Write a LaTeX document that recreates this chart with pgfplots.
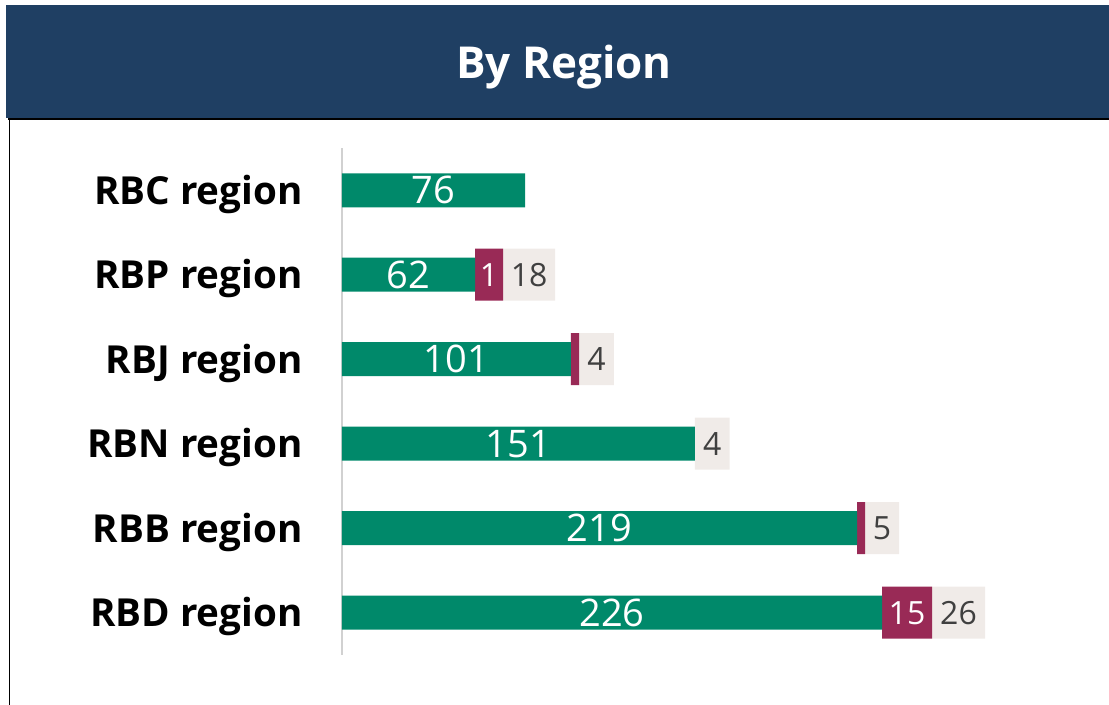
\documentclass[border=0pt]{standalone}
\usepackage{pgfplots}
\usepackage{pgfplotstable}
\pgfplotsset{compat=1.18}
\usepackage{fontspec}
\setmainfont{Open Sans}
\definecolor{titleblue}{HTML}{1F3F63}
\definecolor{bargreen}{HTML}{00896A}
\definecolor{barmaroon}{HTML}{992A56}
\definecolor{bargray}{HTML}{F0EBE8}
\definecolor{labgray}{HTML}{404040}
\pgfplotstableread{
idx g gl m ml s sl
0 76.9 76 0 {} 0 {}
1 55.9 62 11.8 1 21.8 18
2 96.2 101 3.4 {} 14.6 4
3 148.3 151 0 {} 14.6 4
4 216.4 219 3.4 {} 14.3 5
5 226.9 226 21.0 15 22.3 26
}\datatable
\begin{document}
\begin{tikzpicture}
\path[use as bounding box] (0,0) rectangle (554.5pt,-352.5pt);
\fill[titleblue] (3pt,-2.5pt) rectangle (554.5pt,-59pt);
\draw[black, line width=1pt] (4pt,-59.5pt) -- (554.5pt,-59.5pt);
\draw[black, line width=0.8pt] (4.7pt,-59.5pt) -- (4.7pt,-352.5pt);
\node[anchor=base, text=white, font=\fontsize{22}{24}\selectfont\bfseries] at (282pt,-39.5pt) {By Region};
\begin{axis}[
  at={(171pt,-74pt)}, anchor=north west,
  scale only axis, width=357pt, height=253.5pt,
  xbar stacked,
  xmin=0, xmax=300, ymin=-0.5, ymax=5.5,
  y dir=reverse,
  axis lines*=left,
  x axis line style={draw=none},
  y axis line style={draw=black!18, line width=1pt},
  xtick=\empty,
  ytick={0,1,2,3,4,5},
  yticklabels={RBC region,RBP region,RBJ region,RBN region,RBB region,RBD region},
  major tick length=0pt,
  yticklabel style={font=\fontsize{19.3}{21}\selectfont\bfseries, inner sep=0pt, anchor=base east, xshift=-19.5pt, yshift=-7pt},
  point meta=explicit symbolic,
  nodes near coords,
  nodes near coords align={center},
  clip=false,
]
\addplot[fill=bargreen, draw=none, bar width=17pt,
  every node near coord/.append style={text=white, font=\fontsize{19}{20}\selectfont, anchor=center}]
  table[x=g, y=idx, meta=gl] {\datatable};
\addplot[fill=barmaroon, draw=none, bar width=26pt,
  every node near coord/.append style={text=white, font=\fontsize{16}{17}\selectfont, anchor=center}]
  table[x=m, y=idx, meta=ml] {\datatable};
\addplot[fill=bargray, draw=none, bar width=26pt,
  every node near coord/.append style={text=labgray, font=\fontsize{16}{17}\selectfont, anchor=center}]
  table[x=s, y=idx, meta=sl] {\datatable};
\end{axis}
\end{tikzpicture}
\end{document}
